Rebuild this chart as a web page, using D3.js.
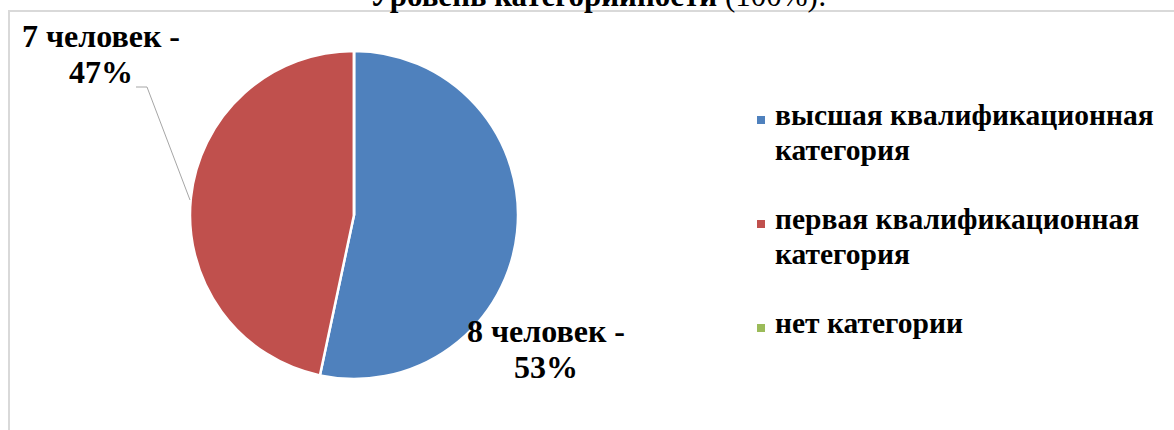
<!DOCTYPE html>
<html><head><meta charset="utf-8">
<script src="https://cdn.jsdelivr.net/npm/d3@7"></script>
<style>html,body{margin:0;padding:0;background:#fff;}svg{display:block;}</style>
</head><body>
<svg id="c" width="1174" height="430"></svg>
<script>
const categories = ["высшая квалификационная категория", "первая квалификационная категория", "нет категории"];
const legendLines = [["высшая квалификационная", "категория"], ["первая квалификационная", "категория"], ["нет категории"]];
const values = [8, 7, 0];
const labels = [["8 человек -", "53%"], ["7 человек -", "47%"], null];
const colors = ["#4f81bd", "#c0504d", "#9bbb59"];
const titleBold = "Уровень категорийности";
const titleNormal = " (100%):";

const svg = d3.select("#c");
const FONT = '"Liberation Serif"';

// frame
svg.append("line").attr("x1", 8).attr("y1", 11).attr("x2", 1174).attr("y2", 11).attr("stroke", "#d9d9d9").attr("stroke-width", 2);
svg.append("line").attr("x1", 9).attr("y1", 10).attr("x2", 9).attr("y2", 430).attr("stroke", "#d9d9d9").attr("stroke-width", 2);

// title (cut off at top, as in the reference)
const t = svg.append("text").attr("x", 598).attr("y", 6).attr("text-anchor", "middle")
  .style("font-family", FONT).style("font-size", "31px").attr("fill", "#000");
t.append("tspan").style("font-weight", "bold").text(titleBold);
t.append("tspan").text(titleNormal);

const cx = 354, cy = 215, r = 164;
const pie = d3.pie().sort(null).value(d => d)(values);
const arc = d3.arc().innerRadius(0).outerRadius(r);
const g = svg.append("g").attr("transform", `translate(${cx},${cy})`);
g.selectAll("path").data(pie).join("path")
  .attr("d", arc).attr("fill", (d, i) => colors[i])
  .attr("stroke", "#fff").attr("stroke-width", 2.5).attr("stroke-linejoin", "round");

// data labels
const labelPos = [[546, 342], [101, 47]];
pie.forEach((d, i) => {
  if (!labels[i] || d.value === 0) return;
  const [lx, ly] = labelPos[i];
  const tx = svg.append("text").attr("text-anchor", "middle")
    .style("font-family", FONT).style("font-size", "32px").style("font-weight", "bold").attr("fill", "#000");
  labels[i].forEach((s, k) => tx.append("tspan").attr("x", lx).attr("y", ly + k * 36).text(s));
});
// leader line for second label
svg.append("polyline").attr("points", "136,87 147,87 190,200")
  .attr("fill", "none").attr("stroke", "#a6a6a6").attr("stroke-width", 1);

// legend
const lg = svg.append("g");
categories.forEach((c, i) => {
  const y0 = 125 + i * 104;
  lg.append("rect").attr("x", 757).attr("y", y0 - 9).attr("width", 8).attr("height", 8).attr("fill", colors[i]);
  const tx = lg.append("text").style("font-family", FONT).style("font-size", "29.5px").style("font-weight", "bold").attr("fill", "#000");
  legendLines[i].forEach((s, k) => tx.append("tspan").attr("x", 775).attr("y", y0 + k * 35).text(s));
});
</script>
</body></html>
